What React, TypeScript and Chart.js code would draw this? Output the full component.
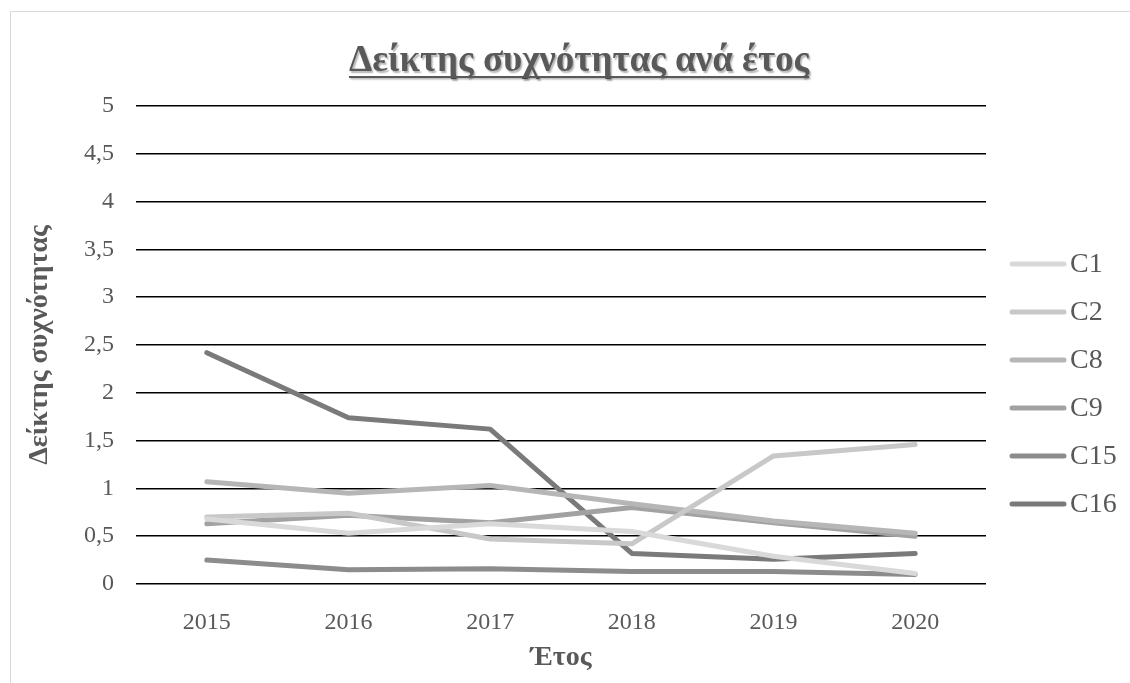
import React, { useEffect, useRef } from 'react';
import { Chart, registerables } from 'chart.js';

Chart.register(...registerables);

const years = ['2015', '2016', '2017', '2018', '2019', '2020'];
const seriesNames = ['C1', 'C2', 'C8', 'C9', 'C15', 'C16'];
const c1Values = [0.68, 0.53, 0.63, 0.55, 0.29, 0.11];
const c2Values = [0.7, 0.74, 0.47, 0.42, 1.34, 1.46];
const c8Values = [1.07, 0.95, 1.03, 0.84, 0.66, 0.53];
const c9Values = [0.63, 0.72, 0.64, 0.8, 0.64, 0.5];
const c15Values = [0.25, 0.15, 0.16, 0.13, 0.13, 0.1];
const c16Values = [2.42, 1.74, 1.62, 0.32, 0.26, 0.32];
const seriesColors = ['#d9d9d9', '#c8c8c8', '#b6b6b6', '#a2a2a2', '#8c8c8c', '#7a7a7a'];
const yMin = 0;
const yMax = 5;
const yStep = 0.5;

const chartTitle = 'Δείκτης συχνότητας ανά έτος';
const yAxisTitle = 'Δείκτης συχνότητας';
const xAxisTitle = 'Έτος';

const SERIF = '"Liberation Serif", "Times New Roman", serif';
const TEXT = '#595959';

const decorPlugin = {
  id: 'decor',
  beforeDraw(chart: any) {
    const ctx = chart.ctx;
    ctx.save();
    ctx.fillStyle = '#ffffff';
    ctx.fillRect(0, 0, chart.width, chart.height);
    ctx.strokeStyle = '#d9d9d9';
    ctx.lineWidth = 1;
    ctx.strokeRect(10.5, 11.5, chart.width + 20, chart.height + 20);
    ctx.restore();
  },
  afterDraw(chart: any) {
    const ctx = chart.ctx;
    ctx.save();
    // title
    ctx.font = `bold 37px ${SERIF}`;
    ctx.textAlign = 'center';
    ctx.textBaseline = 'alphabetic';
    const cx = 579;
    const by = 71;
    const w = ctx.measureText(chartTitle).width;
    ctx.shadowColor = 'rgba(0,0,0,0.3)';
    ctx.shadowOffsetX = 1.5;
    ctx.shadowOffsetY = 1.5;
    ctx.shadowBlur = 1.5;
    ctx.fillStyle = TEXT;
    ctx.fillText(chartTitle, cx, by);
    ctx.fillRect(cx - w / 2, by + 5, w, 2);
    ctx.shadowColor = 'transparent';
    // legend
    const ds = chart.data.datasets;
    ds.forEach((d: any, i: number) => {
      const y = 264 + i * 48;
      ctx.strokeStyle = d.borderColor;
      ctx.lineWidth = 5;
      ctx.lineCap = 'round';
      ctx.beginPath();
      ctx.moveTo(1012, y);
      ctx.lineTo(1064, y);
      ctx.stroke();
      ctx.fillStyle = TEXT;
      ctx.font = `28px ${SERIF}`;
      ctx.textAlign = 'left';
      ctx.textBaseline = 'middle';
      ctx.fillText(d.label, 1070, y + 1);
    });
    ctx.restore();
  },
};

export default function App() {
  const ref = useRef<HTMLCanvasElement | null>(null);
  useEffect(() => {
    if (!ref.current) return;
    const values = [c1Values, c2Values, c8Values, c9Values, c15Values, c16Values];
    const chart = new Chart(ref.current, {
      type: 'line',
      data: {
        labels: years,
        datasets: seriesNames.map((name, i) => ({
          label: name,
          data: values[i],
          borderColor: seriesColors[i],
          backgroundColor: seriesColors[i],
          borderWidth: 5,
          borderCapStyle: 'round',
          borderJoinStyle: 'round',
          pointRadius: 0,
          tension: 0,
          fill: false,
        })),
      },
      options: {
        responsive: false,
        animation: false,
        layout: { padding: { top: 106, right: 144, left: 0, bottom: 0 } },
        plugins: {
          legend: { display: false },
          title: { display: false },
          tooltip: { enabled: false },
        },
        scales: {
          x: {
            offset: true,
            grid: { display: false, drawTicks: false },
            border: { display: false },
            ticks: { color: TEXT, font: { family: SERIF, size: 24 }, padding: 24 },
            title: {
              display: true,
              text: xAxisTitle,
              color: TEXT,
              font: { family: SERIF, size: 28, weight: 'bold' },
              padding: { top: 0, bottom: 8 },
            },
            afterFit(scale: any) {
              scale.height = 99;
            },
          },
          y: {
            min: yMin,
            max: yMax,
            ticks: {
              stepSize: yStep,
              color: TEXT,
              font: { family: SERIF, size: 24 },
              padding: 22,
              callback: (v: any) => String(v).replace('.', ','),
            },
            grid: { color: '#000000', lineWidth: 1.5, drawTicks: false },
            border: { display: false },
            title: {
              display: true,
              text: yAxisTitle,
              color: TEXT,
              font: { family: SERIF, size: 28, weight: 'bold' },
              padding: { top: 23, bottom: 0 },
            },
            afterFit(scale: any) {
              scale.width = 136;
            },
          },
        },
      },
      plugins: [decorPlugin],
    } as any);
    return () => chart.destroy();
  }, []);
  return (
    <div style={{ position: 'fixed', left: 0, top: 0, width: 1130, height: 683, background: '#fff' }}>
      <canvas ref={ref} width={1130} height={683} style={{ display: 'block' }} />
    </div>
  );
}
